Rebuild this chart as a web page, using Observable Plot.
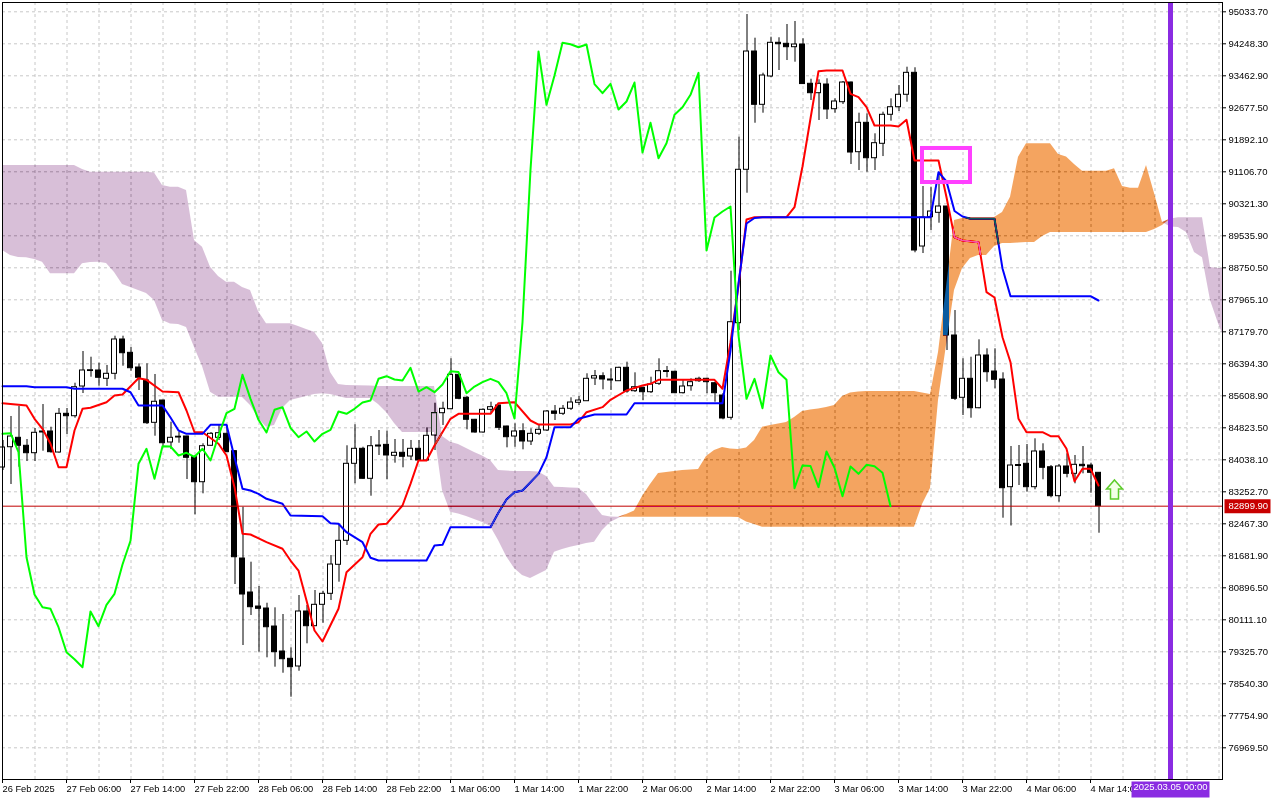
<!DOCTYPE html>
<html><head><meta charset="utf-8">
<script src="https://cdn.jsdelivr.net/npm/d3@7"></script>
<script src="https://cdn.jsdelivr.net/npm/@observablehq/plot@0.6"></script>
<style>html,body{margin:0;padding:0;background:#fff;overflow:hidden}</style>
</head><body><div id="chart"></div>
<script>
// ---- DATA (H1 bars, bar index 0 = 26 Feb 22:00) ----
const timeLabels = ["26 Feb 2025","27 Feb 06:00","27 Feb 14:00","27 Feb 22:00","28 Feb 06:00","28 Feb 14:00","28 Feb 22:00","1 Mar 06:00","1 Mar 14:00","1 Mar 22:00","2 Mar 06:00","2 Mar 14:00","2 Mar 22:00","3 Mar 06:00","3 Mar 14:00","3 Mar 22:00","4 Mar 06:00","4 Mar 14:00"];
const timeLabelBars = [0,8,16,24,32,40,48,56,64,72,80,88,96,104,112,120,128,136];
const priceTicks = [95033.70,94248.30,93462.90,92677.50,91892.10,91106.70,90321.30,89535.90,88750.50,87965.10,87179.70,86394.30,85608.90,84823.50,84038.10,83252.70,82467.30,81681.90,80896.50,80111.10,79325.70,78540.30,77754.90,76969.50];

const open = [83849,84347,84578,84382,84200,84733,84733,84217,85167,85108,85837,86217,86230,86026,86149,86991,86664,86303,85984,84946,85493,84463,84598,84610,84102,83488,84382,84578,84676,84249,81615,80781,80437,80388,79946,79333,79154,78965,80315,79954,80479,80749,81461,82050,83940,84308,83572,84389,84405,84136,84210,84119,84308,84021,84634,85182,85280,86124,85560,85020,84708,85265,85371,84855,84610,84740,84487,84676,84757,85224,85167,85290,85437,85476,86033,86090,86009,85967,86296,85722,85805,85697,85903,86217,86198,85673,85844,85967,86026,85918,85616,85069,87391,91156,94059,92751,93446,94273,94248,94165,94231,93267,93036,93249,92643,92815,93298,91588,92309,91440,91794,92506,92692,92997,93536,89273,89992,90100,90255,87089,85560,86026,85304,86598,86205,86009,83366,83910,83940,83366,84242,83856,83145,83874,83694,83915,83898,83719];
const high = [84512,85101,85346,84536,84806,85395,84838,85297,85297,85918,86696,86556,86409,86353,87072,87072,86794,86394,86394,86132,85500,84961,84715,84620,84110,84431,84708,84880,84880,84266,82875,81525,80928,80518,80405,80241,79424,80707,80462,80830,80806,81689,82443,84382,84897,84347,84610,84757,84740,84536,84536,84512,84512,84823,85427,85452,86517,86149,85592,85030,85290,85452,85380,84865,84922,84922,84799,84880,85248,85371,85371,85560,85592,86149,86230,86173,86271,86311,86434,86173,85820,86065,86517,86328,86213,86001,86026,86065,86041,85943,85665,88667,91956,94967,94386,93527,94410,94396,94722,94796,94371,93379,93365,93389,92898,93323,93310,92545,92530,92039,92570,92898,93225,93674,93660,90746,90729,91097,90260,87702,86517,86556,86983,86762,86762,86173,84364,84389,84414,84553,84431,83898,83923,84185,84144,84364,83955,83725];
const low = [83775,83432,83856,83996,83996,84249,84200,84200,84659,85059,85665,86065,85844,85837,86001,86335,86213,85739,84904,84617,84347,84291,84445,83554,82688,83203,84364,84512,84217,80977,79480,80217,79316,79178,78948,78800,78211,78849,79522,79946,80027,80585,81034,81935,83449,83560,83145,84144,83547,83955,83842,84021,84010,84010,84266,84880,85265,85511,84774,84691,84691,85167,84757,84332,84347,84283,84389,84634,84733,85003,85125,85248,85371,85469,85862,85756,85739,85960,85673,85690,85493,85665,85862,86051,85665,85653,85722,85935,85660,85452,85020,85010,87212,90581,92299,92545,93414,93593,93838,93797,93249,92857,92366,92390,92545,92758,91286,91139,91097,91139,91481,92349,92587,92815,89119,89101,89666,89845,86721,85493,85125,85059,85290,85943,85781,82605,82413,83407,83243,83302,83547,83105,82997,83596,83449,83694,83218,82236];
const close = [84340,84610,84382,84200,84701,84708,84225,85167,85108,85820,86230,86230,86051,86149,86991,86654,86286,86051,84936,85462,84445,84578,84585,84087,83488,84372,84676,84691,84225,81647,80732,80420,80381,79929,79316,79144,78948,80315,79954,80479,80749,81468,82050,83940,84308,83572,84372,84364,84144,84210,84112,84308,84021,84627,85182,85290,86124,85535,85020,84708,85265,85330,84823,84593,84733,84487,84676,84774,85224,85167,85290,85444,85493,86026,86090,86009,85984,86296,85714,85820,85697,85886,86213,86193,85673,85837,85943,86026,85943,85673,85052,87415,91156,94059,92751,93470,94273,94238,94165,94231,93260,93036,93267,92636,92832,93298,91580,92309,91440,91809,92506,92692,92997,93536,89175,89985,90132,90255,87089,85535,86026,85304,86598,86188,86001,83341,83898,83886,83366,84242,83842,83145,83874,83694,83915,83881,83719,82899.9];

// Tenkan-sen (red) read at bar indices
const tenkanIdx = [0,3,4,5,6,7,8,9,10,11,13,14,15,17,18,20,22,23,24,25,27,28,29,30,31,33,35,36,37,39,40,42,43,45,46,47,48,50,51,52,53,54,56,57,61,62,64,66,67,71,72,73,75,76,78,80,81,82,89,90,91,92,93,94,98,99,100,101,102,103,105,106,107,108,109,111,112,113,114,117,118,119,120,122,123,124,125,126,127,128,130,131,132,133,134,135,136,137];
const tenkanVal = [85427,85371,85044,84799,84431,83856,83856,84757,85290,85314,85452,85616,85641,86041,86001,85714,85697,85248,84715,84715,84431,84144,83366,82222,82205,82016,81854,81566,81321,79848,79578,80381,81279,81647,82222,82450,82467,82916,83449,84021,84021,84389,85044,85167,85167,85427,85452,85003,84904,84904,84961,85206,85330,85511,85739,85862,85903,86001,86001,85781,86917,88316,89936,89992,89992,90238,91237,92415,93576,93593,93593,93021,92938,92692,92243,92243,92219,92383,91384,91384,90483,89501,89420,89379,88152,88021,87047,86434,85044,84715,84715,84617,84617,84308,83513,83817,83817,83407];

// Kijun-sen (blue) read at bar indices
const kijunIdx = [0,3,4,8,9,15,16,17,20,21,22,23,25,26,28,29,30,31,32,33,35,36,40,41,42,43,45,46,47,53,54,55,56,61,62,63,64,65,67,68,69,71,72,74,78,79,90,91,92,93,94,95,116,117,118,119,120,121,124,125,126,136,137];
const kijunVal = [85844,85844,85820,85820,85781,85781,85697,85371,85371,85076,84757,84676,84676,84897,84897,84102,83326,83284,83203,83081,82958,82671,82654,82482,82467,82261,82016,81633,81566,81566,81935,81952,82384,82384,82745,83064,83243,83284,83694,84102,84838,84838,85044,85150,85150,85427,85427,86721,88365,89838,89973,89992,89992,91097,90869,90145,90010,89953,89953,88733,88053,88053,87948];

// Senkou spans (cloud), shifted 26 bars ahead; last sample read at the right edge of the frame
const cloudIdx = [0,1,2,3,4,5,6,9,10,11,12,13,14,15,16,17,18,19,20,21,22,23,24,25,26,27,28,29,30,31,32,33,34,35,36,37,38,39,40,41,42,43,46,47,48,49,50,54,55,56,57,58,59,60,61,62,63,64,65,66,67,68,69,70,71,72,73,74,75,76,77,78,79,80,81,82,83,84,85,86,87,88,89,90,91,92,93,94,95,96,97,98,99,100,101,102,103,104,105,106,107,108,114,115,116,117,118,119,120,121,122,123,124,125,126,127,128,129,130,131,132,133,134,135,138,139,140,141,142,143,144,145,146,147,148,149,150,151,152,152.5];
const spanA = [89175,89052,89003,88996,88954,88888,88603,88603,88849,88881,88888,88856,88635,88341,88267,88193,88120,87948,87457,87371,87359,87285,86794,86328,85697,85574,85574,85574,85567,85371,85052,84838,84880,85297,85493,85543,85592,85641,85658,85641,85592,85543,85543,85395,85199,84929,84708,84708,83284,82752,82708,82646,82573,82499,82401,82057,81665,81370,81198,81125,81223,81321,81770,81836,81893,81935,81984,82016,82303,82499,82597,82696,82781,83137,83432,83702,83726,83751,83775,83788,83800,84119,84266,84340,84303,84291,84328,84512,84838,84880,84917,84954,85077,85224,85260,85285,85322,85371,85592,85678,85702,85714,85714,85678,85641,86672,88267,89911,89960,89985,89985,89985,89985,90108,90483,91465,91794,91794,91794,91794,91531,91470,91286,91121,91121,91180,90746,90704,90704,91261,90574,89862,89752,89740,89617,89126,88996,87948,87376,87138];
const spanB = [91261,91261,91261,91261,91261,91261,91261,91261,91163,91097,91097,91097,91097,91097,91097,91097,91097,91077,90770,90729,90729,90648,89420,89256,88765,88537,88397,88397,88267,88193,87678,87376,87376,87376,87376,87310,87236,87170,86892,86181,85886,85862,85849,85837,85837,85837,85837,85837,84610,84470,84414,84315,84217,84131,84021,83775,83763,83751,83751,83751,83739,83628,83366,83358,83346,83341,83187,82916,82671,82634,82629,82629,82629,82629,82629,82629,82629,82629,82629,82629,82629,82629,82629,82629,82629,82622,82511,82450,82384,82384,82384,82384,82384,82384,82384,82384,82384,82384,82384,82384,82384,82384,82384,82941,83334,85493,86843,88193,88733,88979,89052,89052,89273,89347,89347,89359,89371,89371,89519,89617,89617,89617,89617,89617,89617,89617,89617,89617,89617,89617,89691,89789,89948,89978,89978,89978,89978,88758,88733,88733];

// annotations
const markerBox = {x1: 115, x2: 121, y1: 90844, y2: 91679};
const arrowMark = {i: 139, price: 83297};
const futureBar = 146; // 2025.03.05 00:00
const futureLabel = "2025.03.05 00:00";

// ---- BUILD ----
const candles = close.map((c, i) => ({i, o: open[i], h: high[i], l: low[i], c}));
const tenkan = tenkanIdx.map((i, k) => ({i, v: tenkanVal[k]}));
const kijun = kijunIdx.map((i, k) => ({i, v: kijunVal[k]}));
const chikou = close.slice(26).map((v, k) => ({i: k, v}));
const cloud = cloudIdx.map((i, k) => ({i, a: spanA[k], b: spanB[k]}));
const lastClose = close[close.length - 1];
const gridBars = d3.range(4, 153, 4);

const rectSym = (x0, y0, w, h) => ({draw(ctx) { ctx.rect(x0, y0, w, h); }});
const arrowSym = {draw(ctx) {
  ctx.moveTo(0, -10); ctx.lineTo(8, -1); ctx.lineTo(4, -1); ctx.lineTo(4, 9);
  ctx.lineTo(-4, 9); ctx.lineTo(-4, -1); ctx.lineTo(-8, -1); ctx.closePath();
}};

// cloud colours are the complements of sandybrown / thistle, painted in "difference" mode
const ORANGE_K = "#0b5b9f", PURPLE_K = "#274027";

const chart = Plot.plot({
  width: 1280, height: 800,
  marginLeft: 2, marginRight: 58, marginTop: 2, marginBottom: 21,
  style: {fontFamily: "Liberation Sans, Arial, sans-serif", fontSize: "9.5px", background: "white", color: "black", overflow: "visible"},
  x: {domain: [0, 152.5]},
  y: {domain: [76191.5, 95262.0]},
  marks: [
    Plot.frame({fill: "white"}),
    Plot.ruleX(gridBars, {stroke: "#c8c8c8", strokeDasharray: "3,3", dx: 0.5}),
    Plot.ruleY(priceTicks, {stroke: "#c8c8c8", strokeDasharray: "3,3"}),
    Plot.ruleX(candles, {x: "i", y1: "l", y2: "h", stroke: "black", strokeWidth: 1, dx: 0.5}),
    Plot.rect(candles, {
      x1: d => d.i - 0.3125, x2: d => d.i + 0.3125,
      y1: d => Math.min(d.o, d.c),
      y2: d => Math.max(Math.max(d.o, d.c), Math.min(d.o, d.c) + 20),
      fill: d => d.c >= d.o ? "white" : "black", stroke: "black", strokeWidth: 1
    }),
    Plot.line(tenkan, {x: "i", y: "v", stroke: "#ff0000", strokeWidth: 2}),
    Plot.line(kijun, {x: "i", y: "v", stroke: "#0000ff", strokeWidth: 2}),
    Plot.ruleY([lastClose], {stroke: "#c00000", strokeWidth: 1}),
    Plot.areaY(cloud, {x: "i", y1: "b", y2: d => Math.max(d.a, d.b), fill: ORANGE_K, mixBlendMode: "difference"}),
    Plot.areaY(cloud, {x: "i", y1: "a", y2: d => Math.max(d.a, d.b), fill: PURPLE_K, mixBlendMode: "difference"}),
    Plot.line(chikou, {x: "i", y: "v", stroke: "#00ff00", strokeWidth: 2}),
    Plot.rect([markerBox], {x1: "x1", x2: "x2", y1: "y1", y2: "y2", fill: "none", stroke: "#ff40ff", strokeWidth: 4}),
    Plot.dot([arrowMark], {x: "i", y: "price", symbol: arrowSym, r: 5, fill: "#f2ffe6", stroke: "#5ccc2a", strokeWidth: 1.5}),
    Plot.ruleX([futureBar], {stroke: "#8a2be2", strokeWidth: 5}),
    Plot.frame({stroke: "black"}),
    Plot.axisY(priceTicks, {anchor: "right", tickFormat: d => d.toFixed(2), tickSize: 3, tickPadding: 3, label: null, fontSize: 9.5}),
    Plot.axisX(timeLabelBars, {anchor: "bottom", tickFormat: d => timeLabels[timeLabelBars.indexOf(d)], tickSize: 4, tickPadding: 2, textAnchor: "start", label: null, fontSize: 9.3}),
    Plot.dot([lastClose], {x: () => 152.5, y: d => d, symbol: rectSym(2, -7, 46, 14), r: 5, fill: "#c80000", stroke: "none"}),
    Plot.text([lastClose], {x: () => 152.5, y: d => d, text: d => d.toFixed(2), dx: 6, textAnchor: "start", fill: "white", fontSize: 9.5}),
    Plot.dot([futureBar], {x: d => d, frameAnchor: "bottom", dy: 10, symbol: rectSym(-39, -8, 78, 16), r: 5, fill: "#8a2be2", stroke: "none"}),
    Plot.text([futureBar], {x: d => d, frameAnchor: "bottom", dy: 10, text: () => futureLabel, fill: "white", fontSize: 9.5})
  ]
});
// make sure the cloud groups blend with the already painted chart
chart.querySelectorAll("path").forEach(p => {
  const f = (p.getAttribute("fill") || "").toLowerCase();
  if (f === ORANGE_K || f === PURPLE_K) {
    p.style.mixBlendMode = "difference";
    const g = p.parentNode;
    g.removeAttribute("clip-path");
    g.style.mixBlendMode = "difference";
  }
});
document.getElementById("chart").appendChild(chart);
</script>
</body></html>
